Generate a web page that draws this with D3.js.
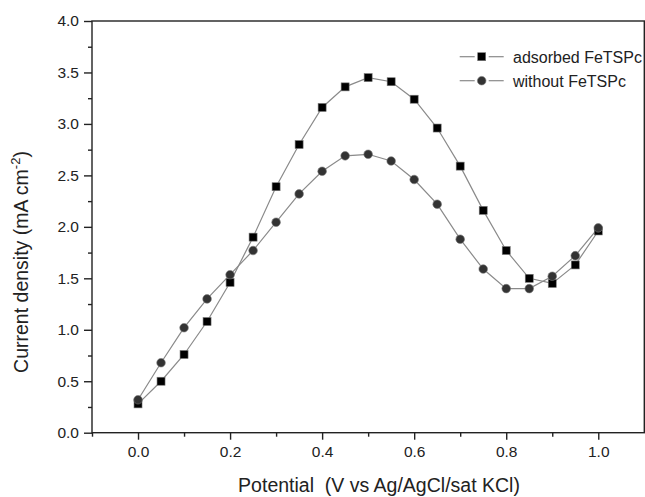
<!DOCTYPE html>
<html>
<head>
<meta charset="utf-8">
<script src="https://cdn.jsdelivr.net/npm/d3@7"></script>
<style>
  html, body { margin: 0; padding: 0; background: #fff; }
  svg { display: block; font-family: "Liberation Sans", Arial, sans-serif; }
</style>
</head>
<body>
<svg id="chart" width="645" height="497"></svg>
<script>
// ---- data ----
const potentials = [0, 0.05, 0.1, 0.15, 0.2, 0.25, 0.3, 0.35, 0.4, 0.45, 0.5, 0.55, 0.6, 0.65, 0.7, 0.75, 0.8, 0.85, 0.9, 0.95, 1.0];
const adsorbed = [0.28, 0.50, 0.76, 1.08, 1.46, 1.90, 2.39, 2.80, 3.16, 3.36, 3.45, 3.41, 3.24, 2.96, 2.59, 2.16, 1.77, 1.50, 1.45, 1.63, 1.96];
const without  = [0.32, 0.68, 1.02, 1.30, 1.535, 1.77, 2.045, 2.32, 2.54, 2.69, 2.705, 2.64, 2.46, 2.22, 1.88, 1.59, 1.40, 1.40, 1.52, 1.72, 1.99];
const seriesNames = ["adsorbed FeTSPc", "without FeTSPc"];
const xTicks = [0.0, 0.2, 0.4, 0.6, 0.8, 1.0];
const xMinorTicks = [-0.1, 0.1, 0.3, 0.5, 0.7, 0.9];
const yTicks = [0.0, 0.5, 1.0, 1.5, 2.0, 2.5, 3.0, 3.5, 4.0];
const yMinorTicks = [0.25, 0.75, 1.25, 1.75, 2.25, 2.75, 3.25, 3.75];

// ---- layout ----
const svg = d3.select("#chart");
const mLeft = 92, mRight = 644.3, mTop = 21, mBottom = 432.7;
const x = d3.scaleLinear().domain([-0.1, 1.1]).range([mLeft, mRight]);
const y = d3.scaleLinear().domain([0, 4]).range([mBottom, mTop]);

// frame
svg.append("rect")
  .attr("x", mLeft).attr("y", mTop)
  .attr("width", mRight - mLeft).attr("height", mBottom - mTop)
  .attr("fill", "none").attr("stroke", "#222").attr("stroke-width", 1.4);

// x axis
svg.append("g").attr("transform", `translate(0,${mBottom})`)
  .call(d3.axisBottom(x).tickValues(xTicks).tickFormat(d3.format(".1f")).tickSize(7).tickPadding(6));
svg.append("g").attr("transform", `translate(0,${mBottom})`)
  .call(d3.axisBottom(x).tickValues(xMinorTicks).tickFormat("").tickSize(4));
// y axis
svg.append("g").attr("transform", `translate(${mLeft},0)`)
  .call(d3.axisLeft(y).tickValues(yTicks).tickFormat(d3.format(".1f")).tickSize(8).tickPadding(5));
svg.append("g").attr("transform", `translate(${mLeft},0)`)
  .call(d3.axisLeft(y).tickValues(yMinorTicks).tickFormat("").tickSize(4));

svg.selectAll(".domain").remove();
svg.selectAll(".tick line").attr("stroke", "#222").attr("stroke-width", 1.4);
svg.selectAll(".tick text").attr("fill", "#222").style("font-size", "15.5px")
  .style("font-family", '"Liberation Sans", Arial, sans-serif');

// axis titles
svg.append("text")
  .attr("x", 379).attr("y", 492)
  .attr("text-anchor", "middle")
  .attr("fill", "#222")
  .style("font-size", "19.5px")
  .style("white-space", "pre")
  .text("Potential  (V vs Ag/AgCl/sat KCl)");

const yt = svg.append("text")
  .attr("transform", "translate(28,262) rotate(-90)")
  .attr("text-anchor", "middle")
  .attr("fill", "#222")
  .style("font-size", "19.5px");
yt.append("tspan").text("Current density (mA cm");
yt.append("tspan").attr("dy", -8).style("font-size", "13px").text("-2");
yt.append("tspan").attr("dy", 8).text(")");

// series
const data1 = potentials.map((p, i) => ({ x: p, y: adsorbed[i] }));
const data2 = potentials.map((p, i) => ({ x: p, y: without[i] }));
const line = d3.line().x(d => x(d.x)).y(d => y(d.y));

svg.append("path").datum(data1).attr("d", line)
  .attr("fill", "none").attr("stroke", "#8a8a8a").attr("stroke-width", 1.2);
svg.append("path").datum(data2).attr("d", line)
  .attr("fill", "none").attr("stroke", "#8a8a8a").attr("stroke-width", 1.2);

const sq = 8;
svg.append("g").selectAll("rect").data(data1).join("rect")
  .attr("x", d => x(d.x) - sq / 2).attr("y", d => y(d.y) - sq / 2)
  .attr("width", sq).attr("height", sq)
  .attr("fill", "#000").attr("stroke", "#777").attr("stroke-width", 0.6);
svg.append("g").selectAll("circle").data(data2).join("circle")
  .attr("cx", d => x(d.x)).attr("cy", d => y(d.y)).attr("r", 4.3)
  .attr("fill", "#333").attr("stroke", "#777").attr("stroke-width", 0.6);

// legend
const legY = [56.7, 80.7];
const lx = 481.7;
legY.forEach((ly, i) => {
  svg.append("line").attr("x1", lx - 22).attr("x2", lx - 7).attr("y1", ly).attr("y2", ly)
    .attr("stroke", "#8a8a8a").attr("stroke-width", 1.2);
  svg.append("line").attr("x1", lx + 7).attr("x2", lx + 22).attr("y1", ly).attr("y2", ly)
    .attr("stroke", "#8a8a8a").attr("stroke-width", 1.2);
  if (i === 0) {
    svg.append("rect").attr("x", lx - sq / 2).attr("y", ly - sq / 2).attr("width", sq).attr("height", sq)
      .attr("fill", "#000").attr("stroke", "#777").attr("stroke-width", 0.6);
  } else {
    svg.append("circle").attr("cx", lx).attr("cy", ly).attr("r", 4.3)
      .attr("fill", "#333").attr("stroke", "#777").attr("stroke-width", 0.6);
  }
  svg.append("text").attr("x", 513).attr("y", ly + 6)
    .attr("fill", "#222").style("font-size", "16px").text(seriesNames[i]);
});
</script>
</body>
</html>
